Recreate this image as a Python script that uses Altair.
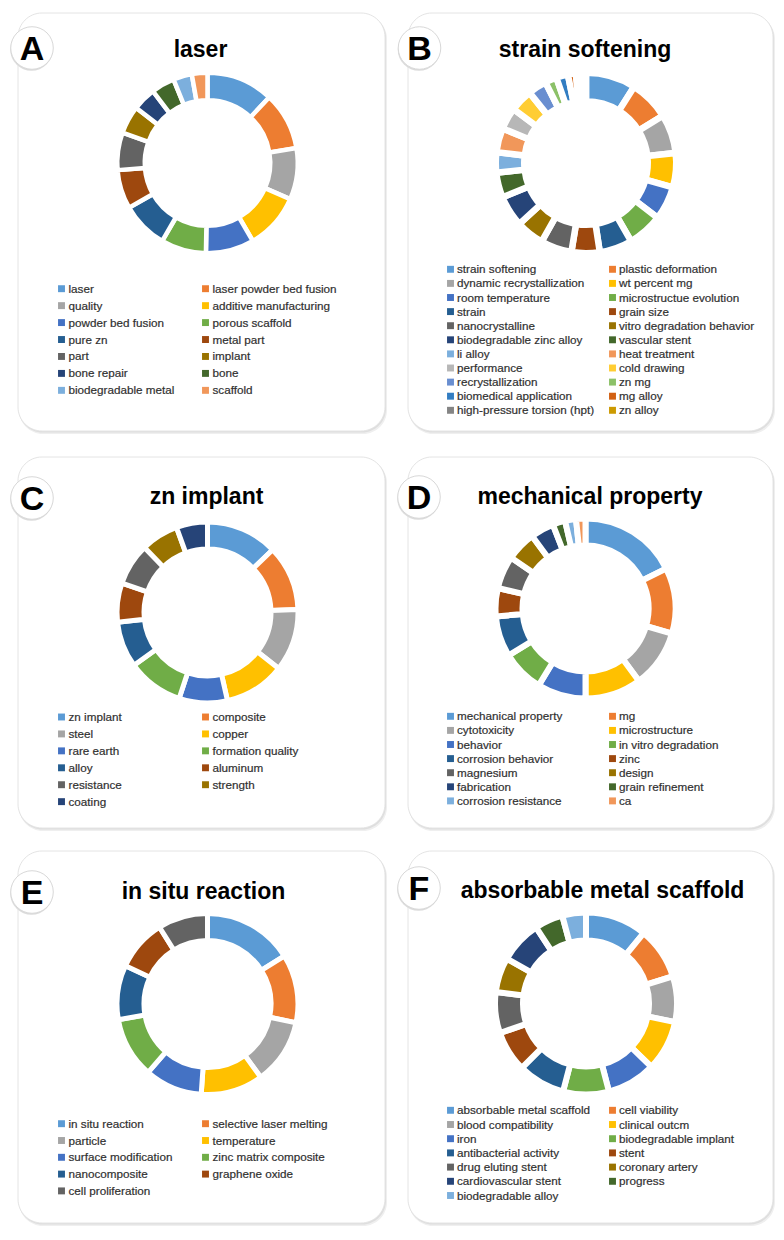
import altair as alt
import pandas as pd

FONT = "Liberation Sans"

PALETTE = ["#5B9BD5", "#ED7D31", "#A5A5A5", "#FFC000", "#4472C4", "#70AD47",
           "#255E91", "#9E480E", "#636363", "#997300", "#264478", "#43682B",
           "#7CAFDD", "#F1975A", "#B7B7B7", "#FFCD33", "#698ED0", "#8CC168",
           "#327DC2", "#D26012", "#848484", "#CC9A00"]

A_title = "laser"
A_labels = ["laser", "laser powder bed fusion", "quality", "additive manufacturing",
            "powder bed fusion", "porous scaffold", "pure zn", "metal part", "part",
            "implant", "bone repair", "bone", "biodegradable metal", "scaffold"]
A_values = [43, 37, 33, 36, 31, 29, 30, 25, 24, 18, 15, 15, 12, 10]

B_title = "strain softening"
B_labels = ["strain softening", "plastic deformation", "dynamic recrystallization",
            "wt percent mg", "room temperature", "microstructue evolution", "strain",
            "grain size", "nanocrystalline", "vitro degradation behavior",
            "biodegradable zinc alloy", "vascular stent", "li alloy", "heat treatment",
            "performance", "cold drawing", "recrystallization", "zn mg",
            "biomedical application", "mg alloy", "high-pressure torsion (hpt)", "zn alloy"]
B_values = [32, 26, 25, 22, 21.5, 22.5, 21, 18, 20, 18, 20, 16, 13, 15.5, 14, 14.5,
            12, 7.5, 7.5, 5, 3.5, 3]

C_title = "zn implant"
C_labels = ["zn implant", "composite", "steel", "copper", "rare earth",
            "formation quality", "alloy", "aluminum", "resistance", "strength", "coating"]
C_values = [46, 42, 40, 39, 31, 36, 29.5, 25, 27, 24, 20]

D_title = "mechanical property"
D_labels = ["mechanical property", "mg", "cytotoxicity", "microstructure", "behavior",
            "in vitro degradation", "corrosion behavior", "zinc", "magnesium", "design",
            "fabrication", "grain refinement", "corrosion resistance", "ca"]
D_values = [63, 42, 37, 36, 31, 27, 26, 18, 21, 19, 15, 8, 7, 6]

E_title = "in situ reaction"
E_labels = ["in situ reaction", "selective laser melting", "particle", "temperature",
            "surface modification", "zinc matrix composite", "nanocomposite",
            "graphene oxide", "cell proliferation"]
E_values = [58, 44, 42, 40, 37, 39, 35, 33, 32]

F_title = "absorbable metal scaffold"
F_labels = ["absorbable metal scaffold", "cell viability", "blood compatibility",
            "clinical outcm", "iron", "biodegradable implant", "antibacterial activity",
            "stent", "drug eluting stent", "coronary artery", "cardiovascular stent",
            "progress", "biodegradable alloy"]
F_values = [39, 33, 29, 32, 31, 29, 30, 26, 26, 22, 27, 18, 15]

LEFT = dict(W=379, bx=10, legx=(53.5, 197.5), tdx=7)
RIGHT = dict(W=380, bx=13, legx=(55.5, 217.5), tdx=6.5)

GEOM = {
    "A": dict(LEFT, H=424, bh=421, badge=(24, 35), title=(192.5, 44), center=(199.5, 150),
              R=88, r=65, sw=4.5, y0=275.7, dy=16.94),
    "B": dict(RIGHT, H=424, bh=421, badge=(24.5, 35), title=(190, 44), center=(191, 150),
              R=87, r=65, sw=6.5, y0=256.3, dy=14.1),
    "C": dict(LEFT, H=374, bh=374, badge=(24, 41), title=(198.5, 47), center=(199.5, 155.5),
              R=88, r=66, sw=5, y0=260, dy=16.93),
    "D": dict(RIGHT, H=374, bh=374, badge=(24, 40), title=(195, 47), center=(190.5, 151.5),
              R=87, r=66, sw=6, y0=259.3, dy=14.1),
    "E": dict(LEFT, H=375, bh=375, badge=(24, 41), title=(195.5, 48), center=(199.5, 153),
              R=88, r=66, sw=5, y0=272.7, dy=16.8),
    "F": dict(RIGHT, H=375, bh=375, badge=(24, 37), title=(207.5, 47), center=(191, 152.5),
              R=88, r=66, sw=6, y0=259.3, dy=14.2),
}


def make_df(labels, values):
    n = len(labels)
    return pd.DataFrame({
        "cat": labels,
        "val": values,
        "idx": list(range(n)),
        "col": [i % 2 for i in range(n)],
        "row": [i // 2 for i in range(n)],
    })


def panel(letter, title, labels, values):
    g = GEOM[letter]
    df = make_df(labels, values)
    W, H, bx, bh = g["W"], g["H"], g["bx"], g["bh"]
    one = alt.Chart(alt.Data(values=[{"k": 1}]))

    shadow2 = one.mark_rect(cornerRadius=24, fill="#efefef").encode(
        x=alt.value(bx + 1), x2=alt.value(W), y=alt.value(2), y2=alt.value(bh))
    shadow1 = one.mark_rect(cornerRadius=24, fill="#dedede").encode(
        x=alt.value(bx + 0.5), x2=alt.value(W - 1), y=alt.value(1), y2=alt.value(bh - 1.5))
    box = one.mark_rect(cornerRadius=24, fill="white", stroke="#e4e4e4", strokeWidth=1).encode(
        x=alt.value(bx), x2=alt.value(W - 2), y=alt.value(0), y2=alt.value(bh - 3))

    cscale = alt.Scale(domain=labels, range=PALETTE[:len(labels)])
    cx, cy = g["center"]
    sw = g["sw"]
    arc = alt.Chart(df).mark_arc(
        innerRadius=g["r"] - sw / 2, outerRadius=g["R"] + sw / 2,
        stroke="white", strokeWidth=sw
    ).encode(
        theta=alt.Theta("val:Q", stack=True),
        color=alt.Color("cat:N", scale=cscale, legend=None),
        order=alt.Order("idx:Q"),
        x=alt.value(cx), y=alt.value(cy),
    )

    x1, x2 = g["legx"]
    xenc = alt.X("col:Q", scale=alt.Scale(domain=[0, 1], range=[x1, x2], nice=False, zero=False), axis=None)
    yenc = alt.Y("row:Q", scale=alt.Scale(domain=[0, 1], range=[g["y0"], g["y0"] + g["dy"]],
                                          nice=False, zero=False), axis=None)
    sq = alt.Chart(df).mark_square(size=48, opacity=1).encode(
        x=xenc, y=yenc, color=alt.Color("cat:N", scale=cscale, legend=None))
    txt = alt.Chart(df).mark_text(
        align="left", baseline="middle", dx=g["tdx"], font=FONT, fontSize=11.7, color="#303030",
        stroke="#303030", strokeWidth=0.2
    ).encode(x=xenc, y=yenc, text="cat:N")

    bcx, bcy = g["badge"]
    bshadow = one.mark_circle(size=1810, color="#dcdcdc", opacity=1).encode(
        x=alt.value(bcx - 0.5), y=alt.value(bcy + 1.5))
    badge = one.mark_circle(size=1810, fill="white", opacity=1, stroke="#d8d8d8",
                            strokeWidth=1, strokeOpacity=1).encode(
        x=alt.value(bcx), y=alt.value(bcy))
    letter_t = one.mark_text(text=letter, font=FONT, fontSize=34, fontWeight="bold",
                             align="center", baseline="alphabetic", color="black").encode(
        x=alt.value(bcx), y=alt.value(bcy + 12))

    tx, ty = g["title"]
    title_t = one.mark_text(text=title, font=FONT, fontSize=23, fontWeight="bold",
                            align="center", baseline="alphabetic", color="black").encode(
        x=alt.value(tx), y=alt.value(ty))

    return alt.layer(shadow2, shadow1, box, arc, sq, txt, bshadow, badge, letter_t,
                     title_t).properties(width=W, height=H)


RES = dict(color="independent", x="independent", y="independent", theta="independent")

chart = alt.concat(
    panel("A", A_title, A_labels, A_values),
    panel("B", B_title, B_labels, B_values),
    panel("C", C_title, C_labels, C_values),
    panel("D", D_title, D_labels, D_values),
    panel("E", E_title, E_labels, E_values),
    panel("F", F_title, F_labels, F_values),
    columns=2,
    spacing=alt.RowColnumber(row=20, column=8),
    bounds="flush",
).resolve_scale(**RES).properties(
    padding={"left": 0, "top": 4, "right": 0, "bottom": 0}
).configure_view(stroke=None)

chart.save("out.html", embed_options={"renderer": "svg", "actions": False})
